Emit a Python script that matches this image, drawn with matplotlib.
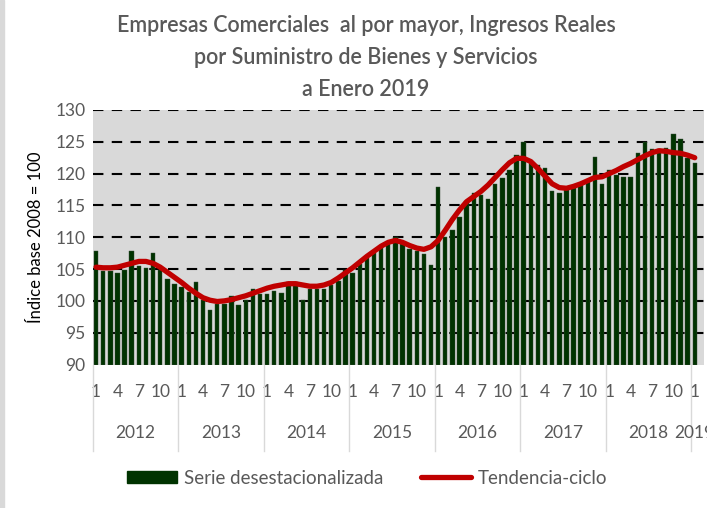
import numpy as np
import matplotlib.pyplot as plt
from matplotlib.lines import Line2D
from matplotlib.patches import Patch, Rectangle

# monthly data, Jan 2012 .. Jan 2019
serie = [107.8, 104.7, 104.7, 104.4, 104.8, 107.8, 105.5, 105.1, 107.6, 104.9, 103.4, 102.7,
         102.2, 101.4, 102.9, 100.1, 98.6, 99.5, 99.5, 100.7, 99.3, 100.2, 101.9, 101.1,
         101.1, 101.6, 101.2, 102.9, 103.0, 100.1, 101.9, 101.9, 101.9, 102.5, 103.1, 104.8,
         104.4, 105.8, 106.7, 107.6, 108.4, 109.0, 110.0, 108.9, 108.2, 107.9, 107.4, 105.7,
         117.9, 110.0, 111.1, 113.2, 115.7, 117.0, 116.6, 116.0, 118.3, 119.3, 120.6, 122.9,
         124.9, 121.9, 121.3, 120.9, 117.3, 117.0, 117.4, 117.7, 118.3, 118.8, 122.6, 118.4,
         120.6, 119.8, 119.5, 119.5, 123.2, 125.0, 123.8, 123.9, 124.0, 126.2, 125.5, 122.4,
         121.7]
tendencia = [105.3, 105.2, 105.2, 105.3, 105.6, 105.9, 106.2, 106.2, 105.9, 105.3, 104.5, 103.7,
             102.9, 102.0, 101.2, 100.5, 100.1, 99.9, 100.0, 100.2, 100.5, 100.8, 101.2, 101.6,
             102.0, 102.3, 102.5, 102.7, 102.7, 102.5, 102.3, 102.3, 102.5, 102.9, 103.6, 104.4,
             105.2, 106.1, 107.0, 107.8, 108.6, 109.2, 109.5, 109.2, 108.7, 108.3, 108.1, 108.5,
             109.5, 111.1, 112.8, 114.3, 115.6, 116.4, 117.2, 118.2, 119.4, 120.6, 121.7, 122.4,
             122.4, 121.9, 120.8, 119.6, 118.4, 117.8, 117.7, 118.0, 118.4, 118.9, 119.4, 119.5,
             120.0, 120.5, 121.1, 121.6, 122.2, 122.8, 123.3, 123.6, 123.5, 123.3, 123.2, 122.9,
             122.5]
years = ['2012', '2013', '2014', '2015', '2016', '2017', '2018', '2019']
months_shown = [1, 4, 7, 10]
title_lines = ['Empresas Comerciales  al por mayor, Ingresos Reales',
               'por Suministro de Bienes y Servicios',
               'a Enero 2019']

grey = '#595959'
plt.rcParams['font.family'] = ['Lato', 'DejaVu Sans']

fig = plt.figure(figsize=(7.07, 5.08), dpi=100)
fig.patches.append(Rectangle((0, 0), 4 / 707, 1, transform=fig.transFigure,
                             color='#d9d9d9', zorder=0))
ax = fig.add_axes([92.5 / 707, (508 - 364.5) / 508, (704 - 92.5) / 707, 254.5 / 508])
ax.set_facecolor('#d9d9d9')

x = np.arange(len(serie))
ax.bar(x, np.array(serie) - 90, bottom=90, width=0.62, color='#003300',
       edgecolor='#3a4a3a', linewidth=0.3, zorder=2)
ax.plot(x, tendencia, color='#c00000', lw=3.8, solid_capstyle='round',
        solid_joinstyle='round', zorder=3)

ax.set_ylim(90, 130)
ax.set_xlim(-0.5, 85.3)
ax.set_yticks(np.arange(90, 131, 5))
for v in range(95, 131, 5):
    ax.axhline(v, color='black', lw=1.5, ls=(0, (5, 4)), zorder=1)
for s in ax.spines.values():
    s.set_visible(False)
ax.tick_params(axis='y', length=0, labelsize=12.5, labelcolor=grey, pad=5)

ticks = []
labels = []
for i in range(len(serie)):
    m = i % 12 + 1
    if m in months_shown:
        ticks.append(i)
        labels.append(str(m))
ax.set_xticks(ticks)
ax.set_xticklabels(labels)
ax.tick_params(axis='x', length=0, labelsize=12.5, labelcolor=grey, pad=14)

# year labels and separators
for k, yr in enumerate(years):
    if k < len(years) - 1:
        cx = k * 12 + 5.5
    else:
        cx = k * 12
    ax.text(cx, -0.27, yr, transform=ax.get_xaxis_transform(), ha='center',
            va='center', fontsize=12.5, color=grey, clip_on=False)
for k in range(len(years)):
    xb = k * 12 - 0.5
    ax.add_line(Line2D([xb, xb], [0, -0.34], transform=ax.get_xaxis_transform(),
                       color='#d9d9d9', lw=1, clip_on=False))

ax.set_ylabel('Índice base 2008 = 100', fontsize=12, color='black', labelpad=8)

for k, line in enumerate(title_lines):
    fig.text(366 / 707, 1 - (31.5 + 32 * k) / 508, line, ha='center', va='baseline',
             fontsize=15.5, fontweight='semibold', color=grey)

handles = [Patch(color='#003300', label='Serie desestacionalizada'),
           Line2D([], [], color='#c00000', lw=3.8, solid_capstyle='round',
                  label='Tendencia-ciclo')]
leg = fig.legend(handles=handles, loc='center', bbox_to_anchor=(367 / 707, 1 - 478 / 508),
                 ncol=2, frameon=False, fontsize=13.5, handlelength=2.7, handleheight=0.55,
                 handletextpad=0.35, columnspacing=2.0)
for t in leg.get_texts():
    t.set_color(grey)

fig.savefig('out.png', dpi=100)
